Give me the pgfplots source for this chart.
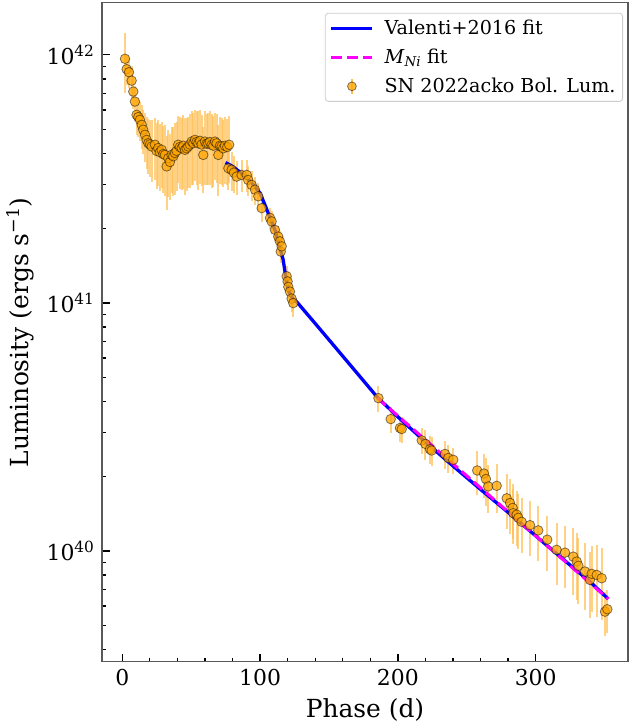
\documentclass[border=0pt]{standalone}
\usepackage{fontspec}
\setmainfont{DejaVu Serif}
\usepackage{pgfplots}
\pgfplotsset{compat=1.18}
\usepackage{pgfplotstable}
\definecolor{myorange}{RGB}{255,165,0}
\definecolor{errorange}{RGB}{255,190,80}
\definecolor{mymagenta}{RGB}{255,0,255}
\definecolor{myblue}{RGB}{0,0,255}

\pgfplotstableread{
x y e
2.0 9.64e41 0.27
3.2 8.75e41 0.14
4.9 8.51e41 0.14
6.8 7.87e41 0.15
8.0 7.11e41 0.15
9.2 6.48e41 0.16
10.4 5.73e41 0.17
11.6 5.61e41 0.17
12.8 5.47e41 0.18
14.1 5.22e41 0.2
15.2 4.99e41 0.2
16.5 4.76e41 0.22
17.7 4.54e41 0.24
18.9 4.40e41 0.25
20.1 4.35e41 0.26
21.3 4.27e41 0.28
23.7 4.34e41 0.28
24.9 4.10e41 0.3
26.1 4.21e41 0.3
27.3 4.05e41 0.3
28.6 4.14e41 0.3
29.8 3.98e41 0.3
31.0 3.95e41 0.32
32.2 3.55e41 0.33
33.4 3.83e41 0.3
34.6 3.70e41 0.3
35.8 3.95e41 0.3
37.0 3.90e41 0.31
38.2 4.02e41 0.32
39.4 4.10e41 0.31
40.6 4.34e41 0.3
41.8 4.25e41 0.32
43.1 4.21e41 0.32
44.3 4.30e41 0.33
45.5 4.14e41 0.34
46.7 4.20e41 0.33
47.9 4.27e41 0.32
49.1 4.35e41 0.33
50.4 4.47e41 0.33
51.6 4.40e41 0.32
52.8 4.54e41 0.32
54.0 4.45e41 0.33
55.2 4.40e41 0.35
56.4 4.50e41 0.33
57.6 4.35e41 0.32
58.8 3.95e41 0.3
60.0 4.47e41 0.33
61.2 4.38e41 0.32
62.4 4.40e41 0.32
63.6 4.45e41 0.33
64.9 4.34e41 0.33
66.1 4.30e41 0.32
67.3 4.47e41 0.3
68.5 4.40e41 0.31
69.7 3.95e41 0.32
70.9 4.30e41 0.3
72.1 4.27e41 0.3
73.3 4.20e41 0.3
74.5 4.30e41 0.3
76.2 4.25e41 0.3
77.6 4.34e41 0.3
77.0 3.49e41 0.18
79.4 3.44e41 0.18
81.0 3.35e41 0.17
83.0 3.23e41 0.16
86.6 3.28e41 0.15
90.3 3.28e41 0.15
91.4 3.13e41 0.14
93.9 2.99e41 0.14
96.3 2.86e41 0.13
98.7 2.69e41 0.13
101.2 2.41e41 0.12
107.2 2.20e41 0.1
108.4 2.13e41 0.1
110.8 1.97e41 0.1
113.2 1.85e41 0.1
114.4 1.77e41 0.1
115.0 1.61e41 0.1
115.7 1.69e41 0.1
119.3 1.28e41 0.1
120.0 1.22e41 0.1
120.5 1.16e41 0.1
121.7 1.11e41 0.12
122.9 1.04e41 0.12
124.1 9.98e40 0.12
185.9 4.13e40 0.12
194.8 3.40e40 0.12
201.5 3.13e40 0.12
202.8 3.10e40 0.12
217.3 2.79e40 0.12
220.0 2.70e40 0.14
223.3 2.57e40 0.13
224.5 2.54e40 0.13
234.2 2.46e40 0.13
236.6 2.37e40 0.13
240.2 2.33e40 0.12
257.6 2.11e40 0.2
262.5 2.05e40 0.2
263.9 1.95e40 0.22
265.6 1.82e40 0.22
271.7 1.83e40 0.22
279.0 1.63e40 0.25
281.4 1.56e40 0.25
283.3 1.49e40 0.25
283.7 1.42e40 0.25
286.2 1.40e40 0.25
287.4 1.36e40 0.25
289.8 1.31e40 0.25
295.9 1.27e40 0.25
301.9 1.21e40 0.25
308.4 1.11e40 0.25
315.2 1.01e40 0.28
321.3 9.84e39 0.28
327.3 9.48e39 0.3
329.8 9.06e39 0.3
331.0 8.71e39 0.3
335.8 8.26e39 0.3
339.4 7.64e39 0.3
340.6 8.08e39 0.3
344.3 8.00e39 0.32
347.9 7.76e39 0.32
350.3 5.69e39 0.2
352.0 5.82e39 0.2
}\lum

\pgfplotstableread{
x y
75 3.68e41
80 3.55e41
85 3.38e41
90 3.20e41
95 3.00e41
100 2.77e41
103.6 2.48e41
107 2.22e41
110.8 1.97e41
114 1.70e41
116.8 1.49e41
119.3 1.20e41
121 1.11e41
123.4 1.045e41
126.6 1.01e41
140 8.26e40
155 6.58e40
170 5.24e40
185 4.17e40
200 3.47e40
220 2.75e40
240 2.20e40
260 1.77e40
280 1.43e40
300 1.15e40
320 9.25e39
340 7.46e39
352.7 6.40e39
}\valenti

\pgfplotstableread{
x y
185 4.14e40
352.7 6.40e39
}\mni

\begin{document}
\begin{tikzpicture}
\begin{axis}[name=ax, scale only axis, width=526bp, height=659bp,
  ymode=log, xmin=-14.7, xmax=367, ymin=3.57e39, ymax=1.62e42,
  xtick={0,100,200,300}, xticklabels={0,100,200,300}, minor x tick num=4,
  ytick={1e40,1e41,1e42},
  yticklabels={10\textsuperscript{40},10\textsuperscript{41},10\textsuperscript{42}},
  minor ytick={4e39,5e39,6e39,7e39,8e39,9e39,2e40,3e40,4e40,5e40,6e40,7e40,8e40,9e40,2e41,3e41,4e41,5e41,6e41,7e41,8e41,9e41},
  tick align=inside, xtick pos=bottom, ytick pos=left,
  major tick length=8.3bp, minor tick length=4.3bp,
  tick style={black, line width=1.3bp},
  axis line style={draw=black!65, line width=1.2bp},
  ticklabel style={font=\fontsize{22}{26}\selectfont},
  xticklabel style={yshift=-4bp},
  yticklabel style={xshift=-4bp},
  xlabel={Phase (d)}, ylabel={Luminosity (ergs s\textsuperscript{−1})},
  label style={font=\fontsize{25}{30}\selectfont},
  xlabel style={at={(axis description cs:0.5,-0.073)}, anchor=center},
  ylabel style={at={(axis description cs:-0.156,0.5)}, anchor=center},
  legend cell align=left,
  legend image code/.code={\draw[#1] (0bp,0bp) -- (41bp,0bp);},
  legend style={at={(axis description cs:0.9905,0.9848)}, anchor=north east,
    draw=black!20, rounded corners=3bp, line width=0.8bp,
    font=\fontsize{19.2}{24}\selectfont,
    inner xsep=4bp, inner ysep=4bp, row sep=7bp,
    nodes={inner sep=3bp},
    /tikz/every odd column/.append style={column sep=8bp}},
]
\addlegendimage{myblue, line width=3.3bp}
\addlegendentry{Valenti+2016 fit}
\addlegendimage{mymagenta, line width=3bp, dash pattern=on 11bp off 5bp}
\addlegendentry{\textit{M}\textsubscript{\textit{Ni}} fit}
\addlegendimage{legend image code/.code={
  \draw[errorange, line width=2bp] (21bp,-7.5bp) -- (21bp,7.5bp);
  \draw[fill=myorange, fill opacity=0.75, draw=black, draw opacity=0.5, line width=0.8bp] (21bp,0bp) circle (4.4bp);}}
\addlegendentry{SN 2022acko Bol. Lum.}

\addplot[forget plot, only marks, mark=*, mark size=4.8bp,
  mark options={fill=myorange, fill opacity=0.75, draw=black, draw opacity=0.5, line width=0.8bp},
  error bars/.cd, y dir=both, y explicit relative, error mark=none,
  error bar style={errorange, opacity=0.7, line width=2bp}]
  table[x=x, y=y, y error=e] {\lum};
\addplot[forget plot, myblue, line width=3.3bp] table[x=x, y=y] {\valenti};
\addplot[forget plot, mymagenta, line width=3bp, dash pattern=on 11bp off 5bp] table[x=x, y=y] {\mni};
\end{axis}
\pgfresetboundingbox
\path[use as bounding box] ([shift={(-102bp,-63bp)}]ax.south west) rectangle ([shift={(2bp,3bp)}]ax.north east);
\end{tikzpicture}
\end{document}
